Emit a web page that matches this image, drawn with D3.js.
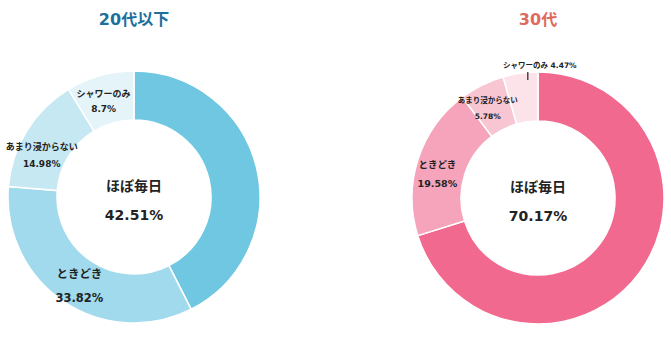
<!DOCTYPE html>
<html>
<head>
<meta charset="utf-8">
<script src="https://cdn.jsdelivr.net/npm/d3@7"></script>
<style>
  html, body { margin: 0; padding: 0; background: #fff; }
  svg { display: block; font-family: "DejaVu Sans", "Noto Sans CJK JP", sans-serif; }
</style>
</head>
<body>
<svg width="671" height="343"></svg>
<script>
// data
const categories = ["ほぼ毎日", "ときどき", "あまり浸からない", "シャワーのみ"]
const groups     = ["20代以下", "30代"]
const values20   = [42.51, 33.82, 14.98, 8.7]
const values30   = [70.17, 19.58, 5.78, 4.47]

const svg = d3.select("svg")

// per chart look; nudge = [dx, dy, line gap] relative to the arc centroid
const charts = [
  { title: groups[0], values: values20, cx: 134, cy: 197, titleColor: "#1d6f9c",
    colors: ["#70c7e1", "#a0daec", "#c6e8f3", "#e4f4f9"],
    fs: [14, 11.5, 9, 9],
    nudge: [null, [2, -3, 24], [-6, 6, 17], [-3, -2, 15]] },
  { title: groups[1], values: values30, cx: 538, cy: 198, titleColor: "#df6a5c",
    colors: ["#f2698f", "#f5a4bb", "#f8c5d2", "#fce3ea"],
    fs: [14, 9.5, 7.5, 7.5],
    nudge: [null, [-4, 1, 19], [-5, -4, 16], [16, 0, 0]] }
]

const rOuter = 126, rInner = 77

const pie = d3.pie().sort(null).value(d => d)
const arc = d3.arc().innerRadius(rInner).outerRadius(rOuter)
const fmt = v => v + "%"

charts.forEach(function(c) {
  const g = svg.append("g").attr("transform", `translate(${c.cx},${c.cy})`)
  const color = d3.scaleOrdinal().domain(categories).range(c.colors)
  const arcs = pie(c.values)

  svg.append("text")
    .attr("x", c.cx).attr("y", 25)
    .attr("text-anchor", "middle")
    .style("font-size", "16px").style("font-weight", "bold")
    .style("fill", c.titleColor)
    .text(c.title)

  g.selectAll(".slice")
      .data(arcs)
    .enter().append("path")
      .attr("d", arc)
      .style("fill", (d, i) => color(categories[i]))
      .style("stroke", "#fff")
      .style("stroke-width", 1.5)

  // big label in the hole
  g.append("text").attr("y", -6).attr("text-anchor", "middle")
    .style("font-size", "14px").style("font-weight", "bold").style("fill", "#222")
    .text(categories[0])
  g.append("text").attr("y", 23).attr("text-anchor", "middle")
    .style("font-size", "14px").style("font-weight", "bold").style("fill", "#222")
    .text(fmt(c.values[0]))

  arcs.forEach(function(d, i) {
    if (i == 0) return
    const [x, y] = arc.centroid(d)
    const fs = c.fs[i]
    const [nx, ny, gap] = c.nudge[i]
    // tiny slice: label sits outside the ring with a small tick
    if (c.values[i] < 5) {
      g.append("line")
        .attr("x1", x + 4).attr("x2", x + 4)
        .attr("y1", -rOuter).attr("y2", -rOuter + 8)
        .style("stroke", "#333").style("stroke-width", 1.3)
      g.append("text")
        .attr("x", x + nx).attr("y", -rOuter - 4)
        .attr("text-anchor", "middle")
        .style("font-size", fs + "px").style("font-weight", "bold").style("fill", "#222")
        .text(categories[i] + " " + fmt(c.values[i]))
      return
    }
    g.append("text")
      .attr("x", x + nx).attr("y", y + ny)
      .attr("text-anchor", "middle")
      .style("font-size", fs + "px").style("font-weight", "bold").style("fill", "#222")
      .text(categories[i])
    g.append("text")
      .attr("x", x + nx).attr("y", y + ny + gap)
      .attr("text-anchor", "middle")
      .style("font-size", fs + "px").style("font-weight", "bold").style("fill", "#222")
      .text(fmt(c.values[i]))
  })
})
</script>
</body>
</html>
